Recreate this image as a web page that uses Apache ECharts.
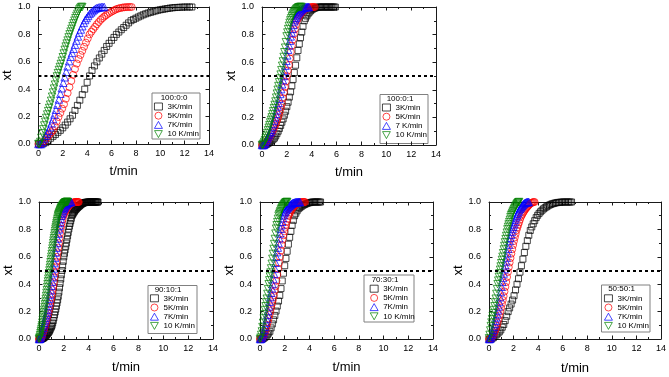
<!DOCTYPE html>
<html><head><meta charset="utf-8">
<script src="https://cdn.jsdelivr.net/npm/echarts@6/dist/echarts.min.js"></script>
<style>html,body{margin:0;padding:0;background:#fff}#c{width:669px;height:377px}</style>
</head><body><div id="c"></div>
<script>
// ---------- DATA ----------
const panelTitles = ['100:0:0', '100:0:1', '90:10:1', '70:30:1', '50:50:1'];
const seriesNames = [
  ['3K/min', '5K/min', '7K/min', '10 K/min'],
  ['3K/min', '5K/min', '7 K/min', '10 K/min'],
  ['3K/min', '5K/min', '7K/min', '10 K/min'],
  ['3K/min', '5K/min', '7K/min', '10 K/min'],
  ['3K/min', '5K/min', '7K/min', '10 K/min']
];
const xTicks = [0, 2, 4, 6, 8, 10, 12, 14];
const yTicks = ['0.0', '0.2', '0.4', '0.6', '0.8', '1.0'];
const halfConversion = 0.5;
// sampling interval (min) of each series
const p1Steps = [0.2, 0.15, 0.12, 0.08];
const p2Steps = [0.1, 0.08, 0.07, 0.06];
const p3Steps = [0.05, 0.05, 0.05, 0.03];
const p4Steps = [0.1, 0.07, 0.06, 0.05];
const p5Steps = [0.12, 0.07, 0.06, 0.05];

// panel 1: 100:0:0
const p1_3K = [0,0,0.003,0.01,0.025,0.042,0.056,0.07,0.085,0.1,0.118,0.138,0.16,0.184,0.21,0.245,0.282,0.32,0.36,0.4,0.45,0.497,0.537,0.57,0.6,0.628,0.656,0.683,0.712,0.735,0.757,0.778,0.8,0.817,0.834,0.85,0.867,0.884,0.9,0.909,0.918,0.927,0.935,0.943,0.95,0.956,0.961,0.966,0.971,0.976,0.98,0.983,0.986,0.989,0.992,0.994,0.996,0.997,0.998,0.999,1,1,1,1];
const p1_5K = [0,0,0.005,0.018,0.035,0.052,0.068,0.085,0.1,0.13,0.165,0.197,0.227,0.258,0.29,0.33,0.372,0.415,0.46,0.505,0.547,0.587,0.62,0.65,0.68,0.71,0.74,0.77,0.8,0.82,0.838,0.856,0.874,0.89,0.906,0.918,0.93,0.94,0.95,0.958,0.966,0.973,0.98,0.986,0.99,0.993,0.996,0.998,0.999,1,1,1];
const p1_7K = [0,0,0,0.015,0.04,0.06,0.078,0.097,0.123,0.152,0.182,0.215,0.25,0.287,0.325,0.367,0.407,0.447,0.487,0.527,0.567,0.605,0.637,0.665,0.695,0.725,0.755,0.785,0.813,0.836,0.86,0.884,0.905,0.92,0.935,0.95,0.96,0.97,0.979,0.988,0.993,0.996,0.998,1,1,1];
const p1_10K = [0,0,0.015,0.045,0.078,0.107,0.135,0.162,0.19,0.215,0.24,0.263,0.287,0.315,0.345,0.375,0.404,0.433,0.463,0.493,0.517,0.54,0.562,0.584,0.607,0.633,0.66,0.687,0.711,0.733,0.755,0.778,0.8,0.82,0.84,0.86,0.88,0.9,0.918,0.935,0.95,0.967,0.982,0.993,1,1];

// panel 2: 100:0:1
const p2_3K = [0,0,0,0.002,0.006,0.012,0.018,0.026,0.034,0.042,0.05,0.065,0.082,0.1,0.12,0.142,0.165,0.189,0.216,0.245,0.278,0.31,0.347,0.385,0.428,0.475,0.525,0.578,0.632,0.685,0.732,0.778,0.818,0.86,0.9,0.918,0.935,0.95,0.962,0.972,0.98,0.986,0.99,0.994,0.997,0.999,1,1,1,1,1,1,1,1,1,1,1,1,1,1];
const p2_5K = [0,0,0,0.005,0.015,0.027,0.038,0.05,0.063,0.077,0.09,0.104,0.121,0.138,0.156,0.175,0.195,0.218,0.245,0.273,0.3,0.34,0.38,0.42,0.46,0.5,0.54,0.58,0.627,0.674,0.72,0.763,0.803,0.838,0.87,0.9,0.914,0.928,0.94,0.951,0.96,0.968,0.975,0.981,0.986,0.99,0.993,0.995,0.997,0.998,0.999,1,1,1];
const p2_7K = [0,0,0,0.006,0.017,0.03,0.044,0.058,0.072,0.086,0.096,0.11,0.13,0.152,0.177,0.2,0.225,0.252,0.28,0.305,0.335,0.37,0.405,0.44,0.47,0.5,0.537,0.575,0.61,0.65,0.69,0.722,0.755,0.787,0.815,0.842,0.87,0.896,0.91,0.922,0.934,0.946,0.955,0.963,0.971,0.978,0.984,0.989,0.993,0.996,0.998,0.999,1,1,1];
const p2_10K = [0,0.002,0.01,0.022,0.036,0.05,0.067,0.086,0.106,0.125,0.144,0.163,0.182,0.2,0.222,0.244,0.267,0.29,0.315,0.343,0.372,0.4,0.427,0.454,0.482,0.51,0.542,0.574,0.605,0.638,0.672,0.705,0.745,0.787,0.815,0.84,0.863,0.885,0.903,0.918,0.932,0.944,0.953,0.962,0.97,0.978,0.985,0.99,0.994,0.997,0.999,1,1,1];

// panel 3: 90:10:1
const p3_3K = [0,0,0,0,0,0.002,0.004,0.007,0.01,0.014,0.018,0.023,0.029,0.035,0.041,0.047,0.052,0.06,0.07,0.08,0.09,0.1,0.117,0.135,0.155,0.176,0.197,0.218,0.24,0.263,0.286,0.312,0.342,0.374,0.406,0.438,0.469,0.5,0.533,0.567,0.6,0.626,0.651,0.676,0.7,0.727,0.753,0.778,0.803,0.824,0.843,0.862,0.881,0.9,0.909,0.917,0.925,0.932,0.939,0.945,0.95,0.955,0.96,0.964,0.968,0.972,0.976,0.98,0.984,0.987,0.99,0.992,0.994,0.995,0.996,0.997,0.998,0.998,0.999,0.999,1,1,1,1,1,1,1,1,1,1,1,1,1,1,1,1];
const p3_5K = [0,0,0,0.003,0.012,0.024,0.037,0.052,0.067,0.082,0.097,0.115,0.134,0.153,0.172,0.19,0.209,0.232,0.256,0.28,0.305,0.331,0.358,0.385,0.415,0.452,0.492,0.53,0.565,0.6,0.633,0.667,0.7,0.736,0.772,0.805,0.828,0.851,0.873,0.896,0.909,0.92,0.931,0.941,0.95,0.957,0.963,0.969,0.974,0.979,0.983,0.987,0.99,0.992,0.994,0.996,0.997,0.998,0.999,0.999,1,1,1,1,1];
const p3_7K = [0,0,0.002,0.012,0.028,0.046,0.064,0.082,0.1,0.118,0.137,0.156,0.174,0.193,0.215,0.241,0.267,0.295,0.325,0.356,0.388,0.419,0.45,0.481,0.515,0.554,0.592,0.631,0.665,0.7,0.733,0.767,0.8,0.825,0.85,0.875,0.9,0.913,0.925,0.938,0.95,0.958,0.966,0.974,0.981,0.986,0.99,0.994,0.997,0.999,1,1,1];
const p3_10K = [0,0.005,0.015,0.028,0.042,0.056,0.07,0.085,0.1,0.119,0.138,0.156,0.175,0.194,0.213,0.233,0.253,0.273,0.293,0.314,0.336,0.357,0.379,0.4,0.42,0.44,0.46,0.48,0.5,0.52,0.54,0.56,0.58,0.6,0.62,0.64,0.66,0.68,0.7,0.718,0.735,0.753,0.771,0.789,0.805,0.819,0.833,0.846,0.859,0.873,0.886,0.9,0.908,0.915,0.922,0.929,0.936,0.943,0.95,0.955,0.96,0.965,0.969,0.973,0.977,0.981,0.985,0.988,0.991,0.993,0.995,0.997,0.998,0.999,1,1,1,1];

// panel 4: 70:30:1
const p4_3K = [0,0,0,0.005,0.012,0.02,0.031,0.043,0.056,0.081,0.11,0.14,0.172,0.204,0.24,0.277,0.318,0.368,0.424,0.48,0.535,0.588,0.64,0.692,0.742,0.786,0.83,0.866,0.9,0.918,0.935,0.95,0.958,0.965,0.971,0.977,0.982,0.986,0.99,0.993,0.995,0.997,0.999,1,1,1,1,1,1,1];
const p4_5K = [0,0,0,0.008,0.022,0.037,0.055,0.077,0.1,0.125,0.15,0.177,0.204,0.232,0.26,0.288,0.318,0.352,0.385,0.425,0.469,0.512,0.556,0.6,0.644,0.688,0.725,0.757,0.786,0.812,0.834,0.856,0.878,0.9,0.914,0.928,0.94,0.95,0.959,0.967,0.974,0.98,0.986,0.99,0.993,0.995,0.997,0.998,0.999,1,1,1,1];
const p4_7K = [0,0,0.004,0.014,0.028,0.045,0.066,0.09,0.117,0.146,0.176,0.205,0.238,0.272,0.305,0.337,0.369,0.4,0.437,0.475,0.514,0.557,0.6,0.634,0.667,0.7,0.735,0.77,0.804,0.83,0.856,0.882,0.903,0.918,0.93,0.94,0.948,0.955,0.961,0.967,0.973,0.978,0.983,0.988,0.991,0.993,0.995,0.997,0.998,0.999,1,1,1,1,1];
const p4_10K = [0,0.01,0.03,0.055,0.087,0.118,0.15,0.181,0.211,0.239,0.267,0.294,0.329,0.364,0.4,0.428,0.456,0.485,0.515,0.549,0.585,0.621,0.657,0.693,0.73,0.769,0.805,0.83,0.853,0.877,0.9,0.912,0.923,0.934,0.946,0.955,0.963,0.97,0.977,0.984,0.99,0.995,0.998,1,1];

// panel 5: 50:50:1
const p5_3K = [0,0,0.002,0.01,0.02,0.031,0.042,0.052,0.066,0.086,0.106,0.134,0.166,0.2,0.227,0.255,0.284,0.316,0.358,0.4,0.44,0.488,0.535,0.583,0.631,0.677,0.718,0.757,0.792,0.818,0.841,0.864,0.886,0.903,0.917,0.929,0.94,0.95,0.958,0.965,0.972,0.978,0.983,0.987,0.99,0.993,0.995,0.997,0.998,0.999,1,1,1,1,1,1,1];
const p5_5K = [0,0,0,0.006,0.017,0.03,0.045,0.06,0.078,0.095,0.118,0.145,0.172,0.2,0.228,0.256,0.284,0.313,0.347,0.381,0.415,0.452,0.489,0.524,0.558,0.591,0.623,0.655,0.686,0.715,0.741,0.767,0.794,0.814,0.833,0.852,0.871,0.89,0.903,0.914,0.925,0.935,0.945,0.953,0.961,0.968,0.975,0.982,0.988,0.992,0.995,0.998,1,1];
const p5_7K = [0,0,0.004,0.015,0.03,0.047,0.067,0.088,0.11,0.134,0.158,0.182,0.209,0.238,0.27,0.305,0.343,0.381,0.417,0.446,0.478,0.51,0.538,0.567,0.595,0.626,0.658,0.689,0.716,0.738,0.76,0.782,0.803,0.82,0.837,0.854,0.872,0.889,0.902,0.915,0.927,0.94,0.95,0.957,0.965,0.972,0.979,0.985,0.99,0.993,0.996,0.998,0.999,1,1];
const p5_10K = [0.005,0.03,0.062,0.094,0.12,0.145,0.167,0.189,0.211,0.239,0.267,0.294,0.329,0.364,0.4,0.426,0.453,0.479,0.505,0.529,0.553,0.577,0.6,0.626,0.653,0.679,0.705,0.729,0.752,0.776,0.8,0.818,0.836,0.853,0.87,0.889,0.903,0.913,0.922,0.932,0.943,0.951,0.959,0.967,0.975,0.983,0.99,0.995,0.998,1];

const panelSteps = [p1Steps, p2Steps, p3Steps, p4Steps, p5Steps];
const panelValues = [
  [p1_3K, p1_5K, p1_7K, p1_10K],
  [p2_3K, p2_5K, p2_7K, p2_10K],
  [p3_3K, p3_5K, p3_7K, p3_10K],
  [p4_3K, p4_5K, p4_7K, p4_10K],
  [p5_3K, p5_5K, p5_7K, p5_10K]
];

// ---------- STYLE / LAYOUT ----------
const FONT = '"Liberation Sans", Arial, sans-serif';
const COLORS = ['#000000', '#ff0000', '#0000ff', '#008000'];
const SYMBOLS = ['rect', 'circle', 'triangle', 'path://M0,0L10,0L5,9Z'];
const SIZES = [6, 7, 7.5, 7.5];
const layout = [
  {grid: {left: 36, top: 7, width: 173, height: 137}, xGap: 21, yGap: 21, box: [152, 93, 48, 46], title: [174, 97.5], leg: [154, 102.5]},
  {grid: {left: 262, top: 7, width: 174, height: 138}, xGap: 21, yGap: 24, box: [380, 94.5, 48, 49], title: [400, 99], leg: [382, 103.5]},
  {grid: {left: 39, top: 202, width: 174, height: 137}, xGap: 22, yGap: 23, box: [148, 285.5, 49, 48], title: [168, 289.5], leg: [150, 294.3]},
  {grid: {left: 260, top: 202, width: 173, height: 137}, xGap: 22, yGap: 21, box: [364, 275, 50, 47], title: [385, 279.5], leg: [369.7, 284.7]},
  {grid: {left: 489, top: 202, width: 173, height: 137}, xGap: 23, yGap: 22, box: [601.5, 285, 48.5, 47], title: [621.5, 289], leg: [604, 294.3]}
];

const option = {
  animation: false,
  backgroundColor: '#fff',
  grid: [], xAxis: [], yAxis: [], legend: [], series: [],
  graphic: {elements: []}
};

const lineSt = {color: '#1a1a1a', width: 1};
panelTitles.forEach((title, g) => {
  const L = layout[g];
  option.grid.push(Object.assign({}, L.grid));
  const common = {
    gridIndex: g, type: 'value',
    splitLine: {show: false},
    axisLine: {show: true, onZero: false, lineStyle: lineSt},
    axisTick: {show: true, inside: true, length: 3.5, lineStyle: lineSt},
    minorTick: {show: true, splitNumber: 2, length: 2, lineStyle: lineSt}
  };
  const xr = {min: xTicks[0], max: xTicks[xTicks.length - 1], interval: xTicks[1] - xTicks[0]};
  const yr = {min: 0, max: 1, interval: 0.2};
  option.xAxis.push(Object.assign({}, common, xr, {
    position: 'bottom',
    axisLabel: {fontSize: 9, margin: 5, color: '#000', fontFamily: FONT},
    name: 't/min', nameLocation: 'middle', nameGap: L.xGap,
    nameTextStyle: {fontSize: 13, color: '#000', fontFamily: FONT}
  }));
  option.xAxis.push(Object.assign({}, common, xr, {position: 'top', axisLabel: {show: false}}));
  option.yAxis.push(Object.assign({}, common, yr, {
    position: 'left',
    axisLabel: {fontSize: 9, margin: 8, color: '#000', fontFamily: FONT,
      formatter: v => yTicks[Math.round(v / 0.2)]},
    name: 'xt', nameLocation: 'middle', nameGap: L.yGap,
    nameTextStyle: {fontSize: 13, color: '#000', fontFamily: FONT}
  }));
  option.yAxis.push(Object.assign({}, common, yr, {position: 'right', axisLabel: {show: false}}));

  panelValues[g].forEach((vals, k) => {
    const dt = panelSteps[g][k];
    const s = {
      type: 'scatter', name: seriesNames[g][k],
      xAxisIndex: 2 * g, yAxisIndex: 2 * g,
      data: vals.map((y, i) => [+(i * dt).toFixed(3), y]),
      symbol: SYMBOLS[k], symbolSize: SIZES[k],
      itemStyle: {color: 'rgba(0,0,0,0)', borderColor: COLORS[k], borderWidth: 0.9},
      emphasis: {disabled: true}, silent: true
    };
    if (k === 0) {
      s.markLine = {
        silent: true, symbol: ['none', 'none'], label: {show: false},
        lineStyle: {color: '#000', width: 2, type: [3, 3]},
        data: [{yAxis: halfConversion}]
      };
    }
    option.series.push(s);
  });

  option.legend.push({
    left: L.leg[0], top: L.leg[1], orient: 'vertical', padding: 0,
    itemWidth: 8, itemHeight: 7, itemGap: 1.2, selectedMode: false,
    data: seriesNames[g].slice(),
    itemStyle: {borderWidth: 0.9},
    textStyle: {fontSize: 8, color: '#000', fontFamily: FONT}
  });
  option.graphic.elements.push({
    type: 'rect', silent: true,
    shape: {x: L.box[0], y: L.box[1], width: L.box[2], height: L.box[3]},
    style: {fill: 'none', stroke: '#808080', lineWidth: 1}
  });
  option.graphic.elements.push({
    type: 'text', silent: true, x: L.title[0], y: L.title[1],
    style: {text: title, fontSize: 8, fontFamily: FONT, fill: '#000', align: 'center', verticalAlign: 'middle'}
  });
});

const chart = echarts.init(document.getElementById('c'), null, {renderer: 'canvas'});
chart.setOption(option);
</script>
</body></html>
